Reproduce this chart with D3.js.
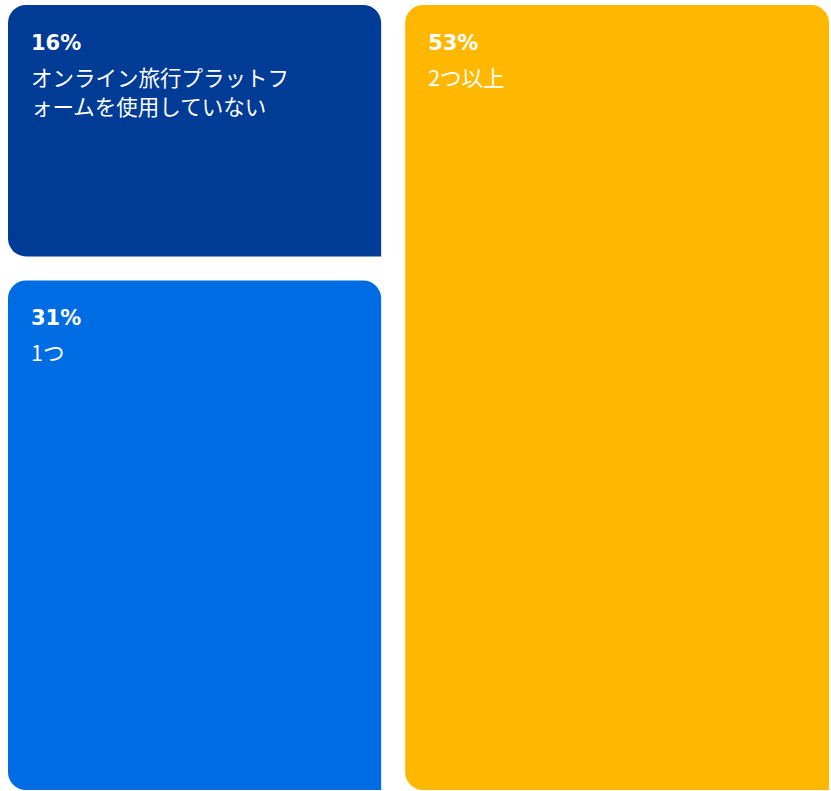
<!DOCTYPE html>
<html>
<head>
<meta charset="utf-8">
<script src="https://cdn.jsdelivr.net/npm/d3@7"></script>
<style>
  html, body { margin: 0; padding: 0; background: #ffffff; }
  svg { display: block; }
</style>
</head>
<body>
<svg id="chart" width="831" height="791"></svg>
<script>
// Share of travellers by number of online travel platforms used
const categories = ["オンライン旅行プラットフォームを使用していない", "1つ", "2つ以上"];
const shares = [16, 31, 53];
const valueLabels = ["16%", "31%", "53%"];
const colors = ["#003b95", "#006ce4", "#ffb700"];

const area = { left: 8, top: 5, right: 829, bottom: 790 };
const gap = 24, radius = 18, pad = 23;

const svg = d3.select("#chart");

const root = d3.hierarchy({
  children: categories.map((c, i) => ({ name: c, value: shares[i], label: valueLabels[i], color: colors[i] }))
}).sum(d => d.value || 0);

d3.treemap()
  .tile(d3.treemapSquarify)
  .size([area.right - area.left, area.bottom - area.top])
  .paddingInner(gap)
  .round(false)(root);

// rectangle with rounded top-left, top-right and bottom-left corners
function tilePath(x0, y0, x1, y1, r) {
  const p = d3.path();
  p.moveTo(x0 + r, y0);
  p.lineTo(x1 - r, y0);
  p.arcTo(x1, y0, x1, y0 + r, r);
  p.lineTo(x1, y1);
  p.lineTo(x0 + r, y1);
  p.arcTo(x0, y1, x0, y1 - r, r);
  p.lineTo(x0, y0 + r);
  p.arcTo(x0, y0, x0 + r, y0, r);
  p.closePath();
  return p.toString();
}

const g = svg.append("g").attr("transform", `translate(${area.left},${area.top})`);

const cell = g.selectAll("g.cell")
  .data(root.leaves())
  .join("g")
  .attr("class", "cell");

cell.append("path")
  .attr("d", d => tilePath(d.x0, d.y0, d.x1, d.y1, radius))
  .attr("fill", d => d.data.color);

cell.append("text")
  .attr("x", d => d.x0 + pad)
  .attr("y", d => d.y0 + 45)
  .attr("fill", "#ffffff")
  .attr("font-family", "'DejaVu Sans', sans-serif")
  .attr("font-weight", 700)
  .attr("font-size", 21)
  .text(d => d.data.label);

const labels = cell.append("text")
  .attr("fill", "#ffffff")
  .attr("font-family", "'Noto Sans CJK JP', 'Noto Sans', sans-serif")
  .attr("font-size", 21.5)
  .attr("font-weight", 400);

// wrap category names to a fixed text width, character by character
const maxWidth = 270;
labels.each(function(d) {
  const t = d3.select(this);
  const chars = Array.from(d.data.name);
  let lines = [], cur = "";
  const probe = t.append("tspan");
  chars.forEach(ch => {
    probe.text(cur + ch);
    if (cur && probe.node().getComputedTextLength() > maxWidth) {
      lines.push(cur);
      cur = ch;
    } else {
      cur += ch;
    }
  });
  if (cur) lines.push(cur);
  probe.remove();
  lines.forEach((ln, i) => {
    t.append("tspan")
      .attr("x", d.x0 + pad)
      .attr("y", d.y0 + 81)
      .attr("dy", i * 28.5)
      .text(ln);
  });
});
</script>
</body>
</html>
